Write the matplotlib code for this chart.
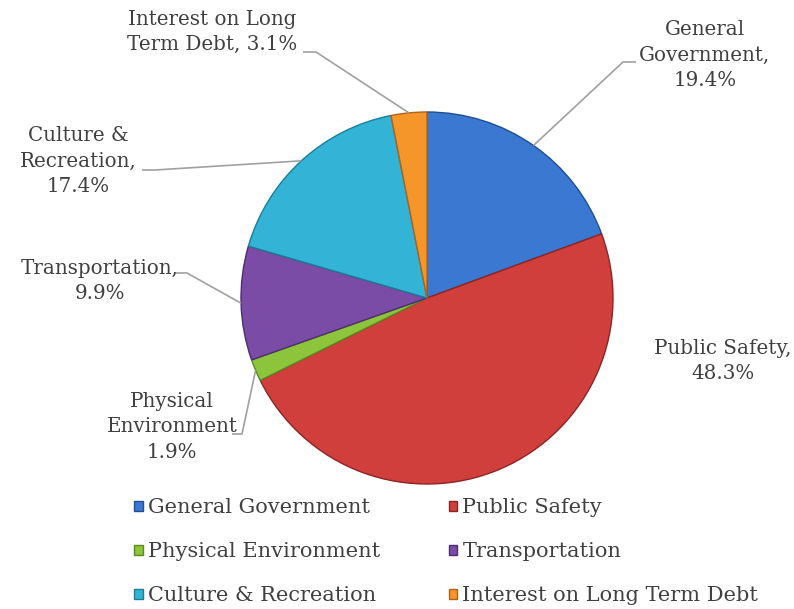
import matplotlib
matplotlib.use("Agg")
import matplotlib.pyplot as plt
from matplotlib.patches import Patch
import numpy as np

categories = ["General Government", "Public Safety", "Physical Environment",
              "Transportation", "Culture & Recreation", "Interest on Long Term Debt"]
shares = [19.4, 48.3, 1.9, 9.9, 17.4, 3.1]
label_texts = ["General\nGovernment,\n19.4%", "Public Safety,\n48.3%",
               "Physical\nEnvironment\n1.9%", "Transportation,\n9.9%",
               "Culture &\nRecreation,\n17.4%", "Interest on Long\nTerm Debt, 3.1%"]
colors = ["#3a78d2", "#d13f3c", "#8cc43c", "#7a4ca6", "#33b4d6", "#f5962a"]
edge_colors = ["#1f4f94", "#8e2422", "#5a8a20", "#4e2d73", "#1c7c98", "#b0621a"]

W, H = 794, 609
TEXT = "#404040"
LEAD = "#a0a0a0"
FONT = "DejaVu Serif"


def px(x, y):
    return x, H - y


fig = plt.figure(figsize=(W / 100, H / 100), dpi=100)
ax = fig.add_axes([0, 0, 1, 1])

cx, cy = px(427, 298)
R = 186
wedges, _ = ax.pie(shares, colors=colors, startangle=90, counterclock=False,
                   center=(cx, cy), radius=R, frame=True,
                   wedgeprops=dict(linewidth=1.0))
for w, ec in zip(wedges, edge_colors):
    w.set_edgecolor(ec)
ax.set_xlim(0, W)
ax.set_ylim(0, H)
ax.set_aspect("equal")
ax.axis("off")

# label text centres and leader elbows (pixel coords)
text_pos = [(705, 55), (723, 361), (172, 427), (100, 281), (78, 161), (212, 32)]
elbows = [[(623, 62), (636, 62)], None, [(242, 434), (232, 434)],
          [(187, 273), (176, 273)], [(155, 170), (142, 170)], [(316, 52), (303, 52)]]

ang = 90.0
for i, s in enumerate(shares):
    mid = ang - s * 3.6 / 2
    ang -= s * 3.6
    tx, ty = px(*text_pos[i])
    ax.text(tx, ty, label_texts[i], ha="center", va="center", color=TEXT,
            fontsize=14.3, family=FONT, linespacing=1.45)
    if elbows[i] is not None:
        ex = cx + R * np.cos(np.radians(mid))
        ey = cy + R * np.sin(np.radians(mid))
        pts = [(ex, ey)] + [px(*p) for p in elbows[i]]
        xs, ys = zip(*pts)
        ax.plot(xs, ys, color=LEAD, lw=1.2, solid_capstyle="butt")

handles = [Patch(facecolor=c, edgecolor=e, label=l)
           for c, e, l in zip(colors, edge_colors, categories)]
order = [0, 2, 4, 1, 3, 5]
leg = ax.legend([handles[i] for i in order], [categories[i] for i in order],
                ncol=2, loc="upper left", bbox_to_anchor=(128 / W, 1 - 492 / H),
                frameon=False, handlelength=0.4, handleheight=0.4,
                handletextpad=0.25, columnspacing=3.3, labelspacing=1.2,
                borderaxespad=0, borderpad=0.3,
                prop=dict(family=FONT, size=15))
for t in leg.get_texts():
    t.set_color(TEXT)

fig.savefig("out.png", dpi=100)
